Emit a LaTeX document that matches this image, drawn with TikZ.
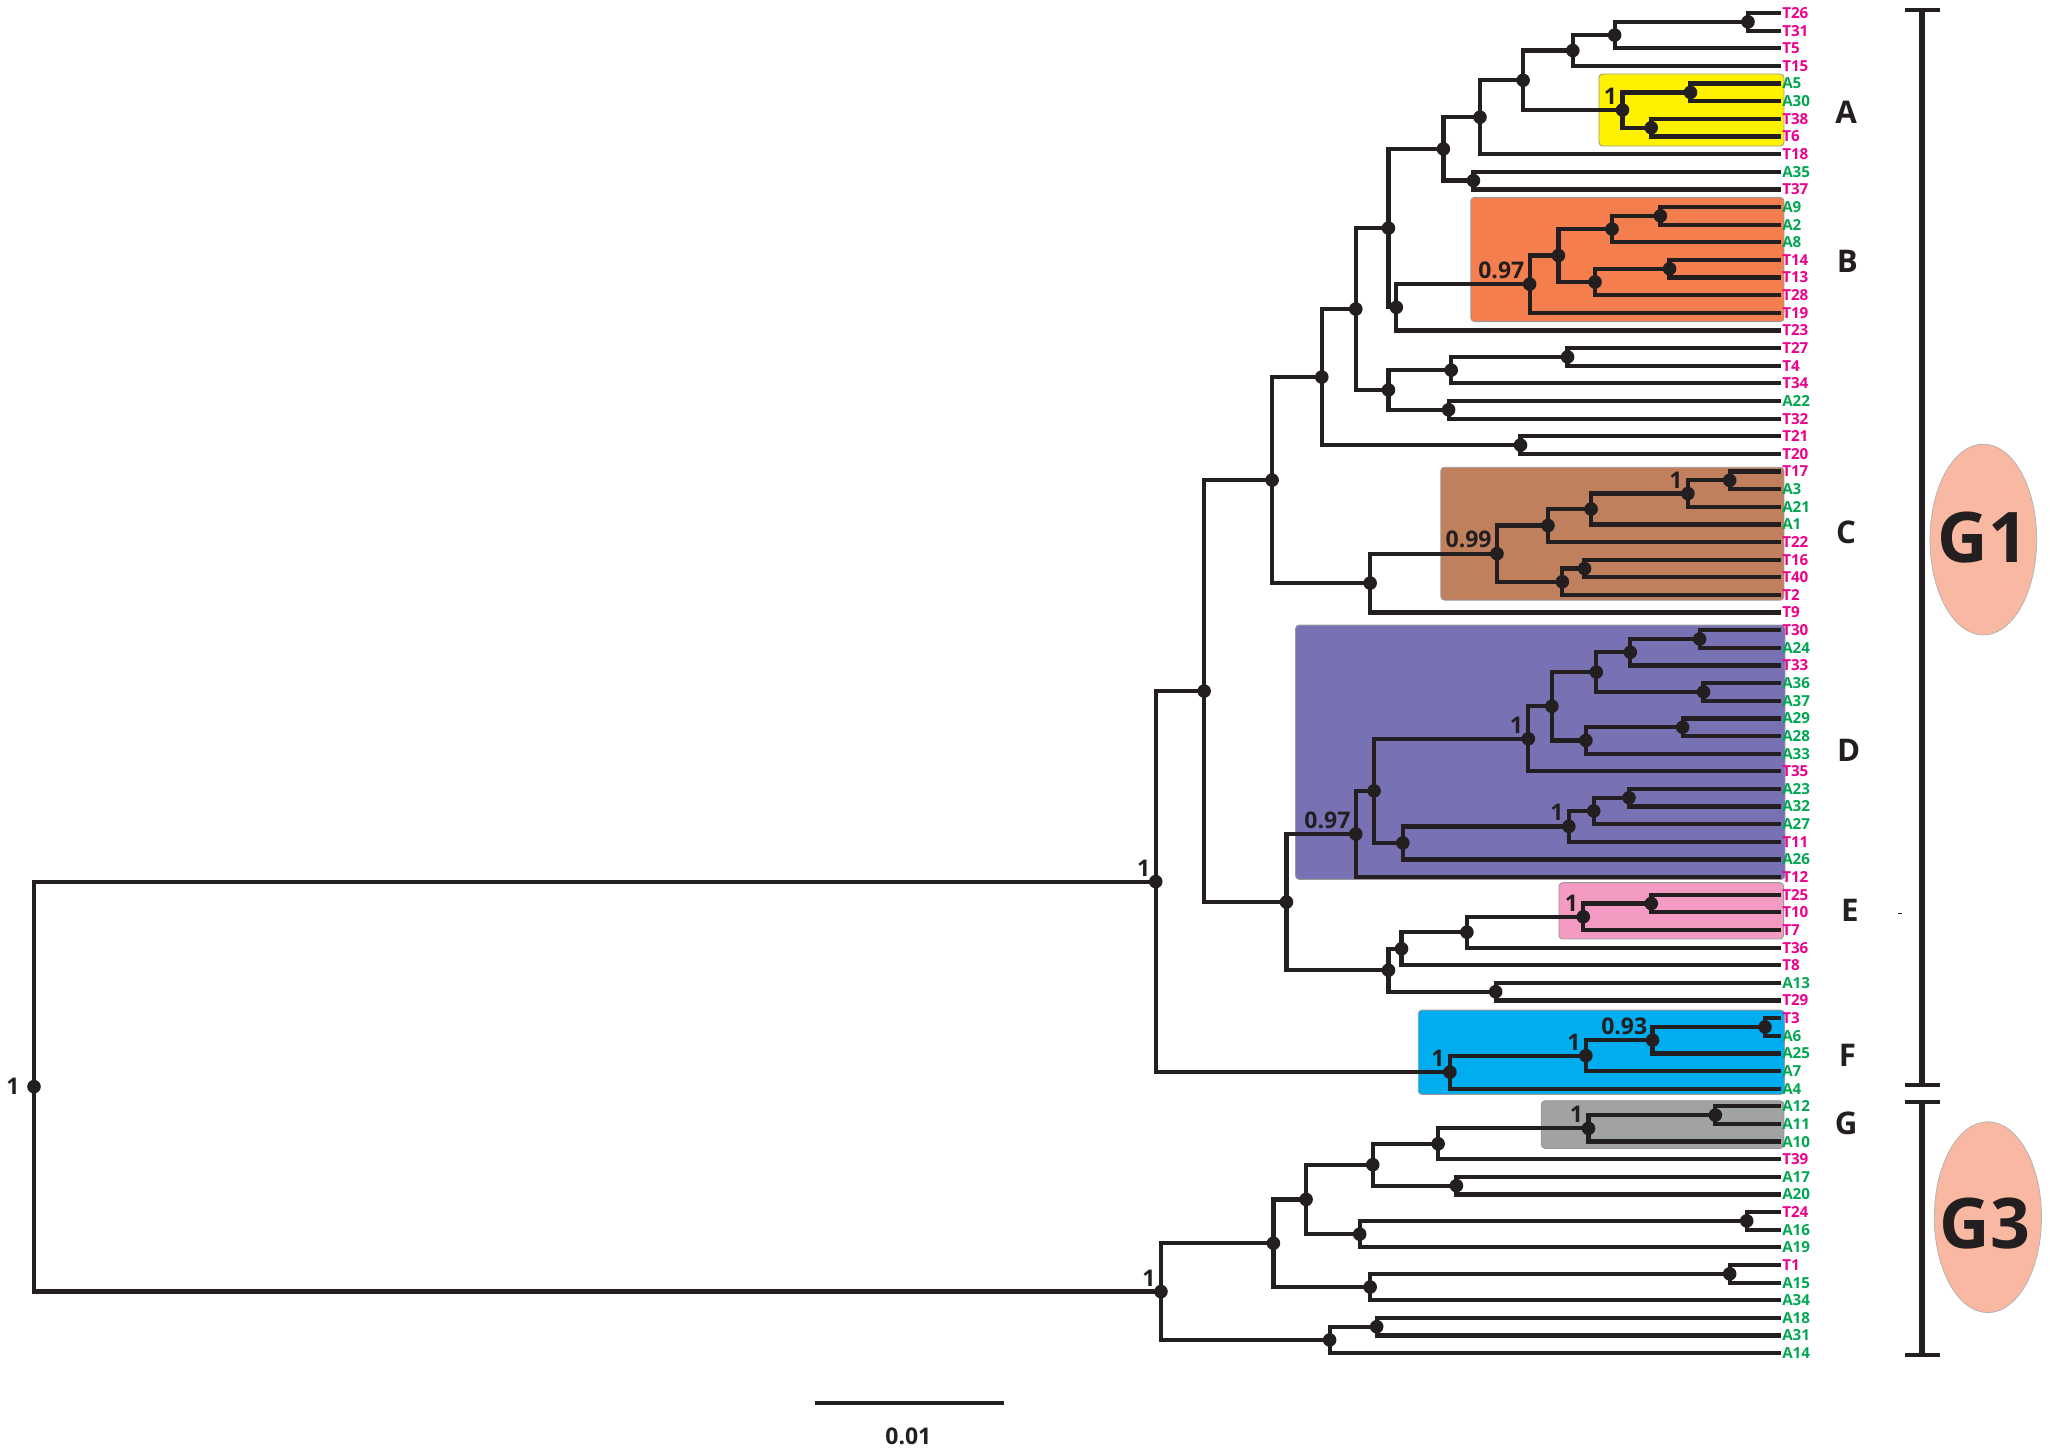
\documentclass[tikz,border=0pt]{standalone}
\usepackage{fontspec}
\setmainfont{Open Sans}
\usepackage{xcolor}
\usepackage{tikz}
\usetikzlibrary{calc}
\definecolor{inkblk}{HTML}{231F20}
\definecolor{colt}{HTML}{EC008C}
\definecolor{cola}{HTML}{00A651}
\definecolor{boxyel}{HTML}{FFF200}
\definecolor{boxorg}{HTML}{F47E4E}
\definecolor{boxbrn}{HTML}{C0805E}
\definecolor{boxpur}{HTML}{7872B4}
\definecolor{boxpnk}{HTML}{F39BC2}
\definecolor{boxblu}{HTML}{00AEEF}
\definecolor{boxgry}{HTML}{A1A2A4}
\definecolor{blob}{HTML}{F8B8A1}

% #1 name, #2 x position, #3 upper child, #4 lower child
\newcommand{\cladenode}[4]{%
  \coordinate (m#1) at ($(#3)!.5!(#4)$);
  \coordinate (x#1) at (#2,0);
  \coordinate (#1) at (x#1 |- m#1);
  \draw[br] (#3) -| (#1) |- (#4);
}

\begin{document}
\begin{tikzpicture}[
          x=0.05cm, y=-0.05cm,
          br/.style={draw=inkblk,line width=4.6pt},
          dot/.style={circle,fill=inkblk,inner sep=0pt,minimum size=0.52cm},
          tiplab/.style={anchor=west,inner sep=1.5pt,
                         font=\bfseries\fontsize{16.5}{16.5}\selectfont},
          numlab/.style={text=inkblk,inner sep=0pt,
                         font=\bfseries\fontsize{25}{25}\selectfont},
          supp/.style={numlab,anchor=south east,xshift=-0.2cm,yshift=0.2cm},
          cbox/.style={rounded corners=4pt,draw=black!40,line width=1pt},
          cladelab/.style={text=inkblk,font=\bfseries\fontsize{34}{34}\selectfont},
          gtag/.style={text=inkblk,inner sep=0pt,font=\bfseries\fontsize{76}{76}\selectfont},
          blobfill/.style={fill=blob,draw=black!30,line width=0.8pt},
          bar/.style={draw=inkblk,line width=7pt},
          endbar/.style={draw=inkblk,line width=4.5pt},
      ]
        \useasboundingbox (0,0) rectangle (1568,1111);

        % clade boxes
        \path[cbox,fill=boxyel] (1223,56.6) rectangle (1364.5,111.7);
        \path[cbox,fill=boxorg] (1125,151) rectangle (1364.5,246);
        \path[cbox,fill=boxbrn] (1102,357.4) rectangle (1364.5,459);
        \path[cbox,fill=boxpur] (990.9,478.1) rectangle (1365.3,672.6);
        \path[cbox,fill=boxpnk] (1192.4,675.1) rectangle (1364.2,718.2);
        \path[cbox,fill=boxblu] (1084.8,772.6) rectangle (1364.8,837.1);
        \path[cbox,fill=boxgry] (1179,841.9) rectangle (1364.4,878.4);

        % tips
        \foreach \nm/\c [count=\i] in {T26/t,T31/t,T5/t,T15/t,A5/a,A30/a,T38/t,T6/t,
            T18/t,A35/a,T37/t,A9/a,A2/a,A8/a,T14/t,T13/t,T28/t,T19/t,T23/t,T27/t,
            T4/t,T34/t,A22/a,T32/t,T21/t,T20/t,T17/t,A3/a,A21/a,A1/a,T22/t,T16/t,
            T40/t,T2/t,T9/t,T30/t,A24/a,T33/t,A36/a,A37/a,A29/a,A28/a,A33/a,T35/t,
            A23/a,A32/a,A27/a,T11/t,A26/a,T12/t,T25/t,T10/t,T7/t,T36/t,T8/t,A13/a,
            T29/t,T3/t,A6/a,A25/a,A7/a,A4/a,A12/a,A11/a,A10/a,T39/t,A17/a,A20/a,
            T24/t,A16/a,A19/a,T1/t,A15/a,A34/a,A18/a,A31/a,A14/a} {
          \coordinate (\nm) at (1362,{10+(\i-1)*13.4868});
          \node[tiplab,text=col\c] (lab\nm) at (\nm) {\nm};
        }

        % G1
        \cladenode{n1}{1337}{T26}{T31}
        \cladenode{n2}{1235}{n1}{T5}
        \cladenode{n3}{1203}{n2}{T15}
        \cladenode{nA1}{1293}{A5}{A30}
        \cladenode{nA2}{1263}{T38}{T6}
        \cladenode{nA}{1241}{nA1}{nA2}
        \cladenode{n4}{1165}{n3}{nA}
        \cladenode{n5}{1132}{n4}{T18}
        \cladenode{n6}{1127}{A35}{T37}
        \cladenode{n7}{1104}{n5}{n6}
        \cladenode{nB1}{1270}{A9}{A2}
        \cladenode{nB2}{1233}{nB1}{A8}
        \cladenode{nB3}{1277}{T14}{T13}
        \cladenode{nB4}{1220}{nB3}{T28}
        \cladenode{nB5}{1192}{nB2}{nB4}
        \cladenode{nB}{1170}{nB5}{T19}
        \cladenode{n8}{1068}{nB}{T23}
        \cladenode{n9}{1062}{n7}{n8}
        \cladenode{n10}{1199}{T27}{T4}
        \cladenode{n11}{1110}{n10}{T34}
        \cladenode{n12}{1108}{A22}{T32}
        \cladenode{n13}{1062}{n11}{n12}
        \cladenode{n14}{1037}{n9}{n13}
        \cladenode{n15}{1163}{T21}{T20}
        \cladenode{n16}{1011}{n14}{n15}
        \cladenode{nC1}{1323}{T17}{A3}
        \cladenode{nC2}{1291}{nC1}{A21}
        \cladenode{nC3}{1217}{nC2}{A1}
        \cladenode{nC4}{1184}{nC3}{T22}
        \cladenode{nC5}{1212}{T16}{T40}
        \cladenode{nC6}{1195}{nC5}{T2}
        \cladenode{nC}{1145}{nC4}{nC6}
        \cladenode{n17}{1048}{nC}{T9}
        \cladenode{n18}{973}{n16}{n17}
        \cladenode{nD1}{1300}{T30}{A24}
        \cladenode{nD2}{1247}{nD1}{T33}
        \cladenode{nD3}{1303}{A36}{A37}
        \cladenode{nD4}{1221}{nD2}{nD3}
        \cladenode{nD5}{1287}{A29}{A28}
        \cladenode{nD6}{1213}{nD5}{A33}
        \cladenode{nD7}{1187}{nD4}{nD6}
        \cladenode{nD8}{1169}{nD7}{T35}
        \cladenode{nD9}{1246}{A23}{A32}
        \cladenode{nD10}{1219}{nD9}{A27}
        \cladenode{nD11}{1200}{nD10}{T11}
        \cladenode{nD12}{1073}{nD11}{A26}
        \cladenode{nD13}{1051}{nD8}{nD12}
        \cladenode{nD}{1037}{nD13}{T12}
        \cladenode{nE1}{1263}{T25}{T10}
        \cladenode{nE}{1211}{nE1}{T7}
        \cladenode{n19}{1122}{nE}{T36}
        \cladenode{n20}{1072}{n19}{T8}
        \cladenode{n21}{1144}{A13}{T29}
        \cladenode{n22}{1062}{n20}{n21}
        \cladenode{n23}{984}{nD}{n22}
        \cladenode{n24}{921}{n18}{n23}
        \cladenode{nF1}{1350}{T3}{A6}
        \cladenode{nF2}{1264}{nF1}{A25}
        \cladenode{nF3}{1213}{nF2}{A7}
        \cladenode{nF}{1109}{nF3}{A4}
        \cladenode{nG1}{884}{n24}{nF}
        % G3
        \cladenode{nG2}{1312}{A12}{A11}
        \cladenode{nG}{1215}{nG2}{A10}
        \cladenode{m1}{1100}{nG}{T39}
        \cladenode{m2}{1114}{A17}{A20}
        \cladenode{m3}{1050}{m1}{m2}
        \cladenode{m4}{1336}{T24}{A16}
        \cladenode{m5}{1040}{m4}{A19}
        \cladenode{m6}{999}{m3}{m5}
        \cladenode{m7}{1323}{T1}{A15}
        \cladenode{m8}{1048}{m7}{A34}
        \cladenode{m9}{974}{m6}{m8}
        \cladenode{m10}{1053}{A18}{A31}
        \cladenode{m11}{1017}{m10}{A14}
        \cladenode{nG3}{888}{m9}{m11}
        \cladenode{root}{26}{nG1}{nG3}

        \foreach \n in {n1,n2,n3,nA1,nA2,nA,n4,n5,n6,n7,nB1,nB2,nB3,nB4,nB5,nB,
            n8,n9,n10,n11,n12,n13,n14,n15,n16,nC1,nC2,nC3,nC4,nC5,nC6,nC,n17,n18,
            nD1,nD2,nD3,nD4,nD5,nD6,nD7,nD8,nD9,nD10,nD11,nD12,nD13,nD,nE1,nE,
            n19,n20,n21,n22,n23,n24,nF1,nF2,nF3,nF,nG1,nG2,nG,m1,m2,m3,m4,m5,m6,
            m7,m8,m9,m10,m11,nG3,root}
          \node[dot] (d\n) at (\n) {};

        % support values
        \node[supp] (sA) at (nA) {1};
        \node[supp] (sB) at (nB) {0.97};
        \node[supp] (sC2) at (nC2) {1};
        \node[supp] (sC) at (nC) {0.99};
        \node[supp] (sD8) at (nD8) {1};
        \node[supp] (sD11) at (nD11) {1};
        \node[supp] (sD) at (nD) {0.97};
        \node[supp] (sE) at (nE) {1};
        \node[supp] (sF2) at (nF2) {0.93};
        \node[supp] (sF3) at (nF3) {1};
        \node[supp] (sF) at (nF) {1};
        \node[supp] (sG) at (nG) {1};
        \node[supp] (sG1) at (nG1) {1};
        \node[supp] (sG3) at (nG3) {1};
        \node[numlab,anchor=east,xshift=-0.55cm] (sroot) at (root) {1};

        % clade letters
        \node[cladelab] (cladeA) at (1412,85.7) {A};
        \node[cladelab] (cladeB) at (1413,199.8) {B};
        \node[cladelab] (cladeC) at (1412,407) {C};
        \node[cladelab] (cladeD) at (1414,573.8) {D};
        \node[cladelab] (cladeE) at (1415,696) {E};
        \node[cladelab] (cladeF) at (1413,807) {F};
        \node[cladelab] (cladeG) at (1412,859) {G};
        \draw[inkblk,line width=1pt] (1452,699) -- (1455,699);

        % group bars
        \coordinate (g1a) at (1470,7.5);
        \coordinate (g1b) at (1470,829.7);
        \coordinate (g3a) at (1470,842.7);
        \coordinate (g3b) at (1470,1036.7);
        \draw[bar] (g1a) -- (g1b);
        \draw[bar] (g3a) -- (g3b);
        \foreach \p in {g1a,g1b,g3a,g3b}
          \draw[endbar] ([xshift=-0.65cm]\p) -- ([xshift=0.7cm]\p);

        \coordinate (cG1) at (1517,412.7);
        \coordinate (cG3) at (1520.5,931);
        \path[blobfill] (cG1) ellipse [x radius=2.04cm,y radius=3.65cm];
        \path[blobfill] (cG3) ellipse [x radius=2.05cm,y radius=3.65cm];
        \node[gtag] (tagG1) at (1516.5,411.5) {G1};
        \node[gtag] (tagG3) at (1518.4,936) {G3};

        % scale bar
        \coordinate (sbL) at (623.4,1072.9);
        \coordinate (sbR) at (767.9,1072.9);
        \draw[br] (sbL) -- (sbR);
        \node[numlab] (sbtxt) at (694.8,1098.5) {0.01};
      \end{tikzpicture}
\end{document}
